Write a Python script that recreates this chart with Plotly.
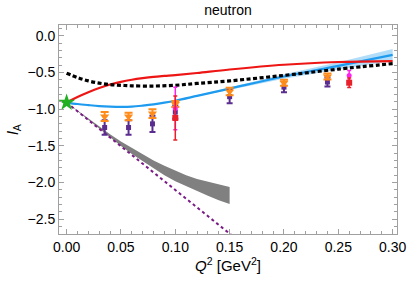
import plotly.graph_objects as go

# ---- data ----
q_curve = [0.0, 0.01, 0.02, 0.03, 0.04, 0.05, 0.06, 0.07, 0.08, 0.09, 0.10, 0.12, 0.15, 0.20, 0.25, 0.30]
red_curve = [-0.91, -0.835, -0.77, -0.712, -0.665, -0.628, -0.60, -0.578, -0.56, -0.548, -0.537, -0.508, -0.46, -0.395, -0.358, -0.345]
blue_curve = [-0.91, -0.93, -0.945, -0.958, -0.965, -0.968, -0.965, -0.952, -0.935, -0.912, -0.885, -0.82, -0.72, -0.555, -0.41, -0.26]
blue_err = [0.0, 0.0, 0.0, 0.0, 0.0, 0.0, 0.0, 0.0, 0.0, 0.0, 0.003, 0.008, 0.015, 0.03, 0.05, 0.08]

q_black = [0.0, 0.01, 0.02, 0.03, 0.04, 0.05, 0.06, 0.08, 0.10, 0.12, 0.15, 0.20, 0.25, 0.30]
black_curve = [-0.51, -0.57, -0.615, -0.645, -0.665, -0.675, -0.682, -0.685, -0.675, -0.65, -0.615, -0.54, -0.455, -0.38]

q_band = [0.0, 0.01, 0.02, 0.03, 0.04, 0.05, 0.06, 0.07, 0.08, 0.09, 0.10, 0.11, 0.12, 0.13, 0.14, 0.15]
band_upper = [-0.91, -1.02, -1.13, -1.24, -1.34, -1.44, -1.53, -1.62, -1.70, -1.77, -1.84, -1.90, -1.95, -1.99, -2.03, -2.06]
band_lower = [-0.91, -1.03, -1.15, -1.27, -1.39, -1.50, -1.61, -1.71, -1.81, -1.90, -1.98, -2.05, -2.12, -2.18, -2.24, -2.29]

q_line = [0.0, 0.16]
purple_line = [-0.91, -2.814]

q_pts = [0.035, 0.057, 0.079, 0.10, 0.15, 0.20, 0.24]
orange_y = [-1.10, -1.10, -1.06, -0.93, -0.76, -0.64, -0.555]
orange_err = [0.06, 0.05, 0.06, 0.04, 0.05, 0.04, 0.04]
purple_y = [-1.25, -1.25, -1.20, -1.04, -0.83, -0.70, -0.63]
purple_err = [0.10, 0.10, 0.11, 0.09, 0.09, 0.07, 0.06]

q_mag = [0.10, 0.26]
mag_y = [-0.99, -0.54]
mag_err = [0.29, 0.065]
q_red = [0.10, 0.26]
red_y = [-1.12, -0.64]
red_err = [0.30, 0.065]

star_q = [0.0]
star_y = [-0.91]

fig = go.Figure()

# gray band
fig.add_trace(go.Scatter(x=q_band, y=band_upper, mode="lines", line=dict(width=0, color="#808080"), showlegend=False, hoverinfo="skip"))
fig.add_trace(go.Scatter(x=q_band, y=band_lower, mode="lines", line=dict(width=0, color="#808080"), fill="tonexty", fillcolor="#808080", showlegend=False, hoverinfo="skip"))

# purple dashed
fig.add_trace(go.Scatter(x=q_line, y=purple_line, mode="lines", line=dict(color="#7A1A86", width=2, dash="3px,3px"), showlegend=False))

# blue band
fig.add_trace(go.Scatter(x=q_curve, y=[b + e for b, e in zip(blue_curve, blue_err)], mode="lines", line=dict(width=0), showlegend=False, hoverinfo="skip"))
fig.add_trace(go.Scatter(x=q_curve, y=[b - e for b, e in zip(blue_curve, blue_err)], mode="lines", line=dict(width=0), fill="tonexty", fillcolor="rgba(60,170,240,0.4)", showlegend=False, hoverinfo="skip"))
fig.add_trace(go.Scatter(x=q_curve, y=blue_curve, mode="lines", line=dict(color="#1E9BEF", width=2.2, shape="spline"), showlegend=False))

# red
fig.add_trace(go.Scatter(x=q_curve, y=red_curve, mode="lines", line=dict(color="#EE1515", width=2.2, shape="spline"), showlegend=False))

# black dashed
fig.add_trace(go.Scatter(x=q_black, y=black_curve, mode="lines", line=dict(color="black", width=3.2, dash="4px,2.5px", shape="spline"), showlegend=False))

# data points
fig.add_trace(go.Scatter(x=q_pts, y=purple_y, mode="markers",
                         marker=dict(symbol="square", size=5, color="#5B2D90"),
                         error_y=dict(type="data", array=purple_err, color="#5B2D90", thickness=2, width=3),
                         showlegend=False))
fig.add_trace(go.Scatter(x=q_pts, y=orange_y, mode="markers",
                         marker=dict(symbol="triangle-down", size=8, color="#FF8C1A"),
                         error_y=dict(type="data", array=orange_err, color="#FF8C1A", thickness=2, width=4),
                         showlegend=False))
fig.add_trace(go.Scatter(x=q_mag, y=mag_y, mode="markers",
                         marker=dict(symbol="circle", size=5, color="#FF22EE"),
                         error_y=dict(type="data", array=mag_err, color="#FF22EE", thickness=1.5, width=2),
                         showlegend=False))
fig.add_trace(go.Scatter(x=q_red, y=red_y, mode="markers",
                         marker=dict(symbol="square", size=6, color="#E8202A"),
                         error_y=dict(type="data", array=red_err, color="#E8202A", thickness=1.5, width=2),
                         showlegend=False))

# star
fig.add_trace(go.Scatter(x=star_q, y=star_y, mode="markers",
                         marker=dict(symbol="star", size=13, color="#22B022", line=dict(width=0)),
                         showlegend=False, cliponaxis=False))

font = "Liberation Sans, Arial, sans-serif"
axis_common = dict(showgrid=False, zeroline=False, showline=True, linecolor="#A0A0A0", linewidth=1,
                   mirror="allticks", ticks="inside", ticklen=5, tickcolor="#A0A0A0", tickwidth=1,
                   automargin=False,
                   tickfont=dict(family=font, size=14, color="black"))

fig.update_layout(
    width=407, height=284,
    margin=dict(l=59, r=10, t=25, b=50),
    paper_bgcolor="white", plot_bgcolor="white",
    font=dict(family=font, color="black"),
    title=dict(text="neutron", x=0.5, xref="paper", xanchor="center", y=1 - 10 / 284, yref="container", yanchor="middle",
               font=dict(family=font, size=14, color="black")),
    xaxis=dict(range=[-0.007, 0.304], tickvals=[0, 0.05, 0.10, 0.15, 0.20, 0.25, 0.30], tickformat=".2f",
               minor=dict(dtick=0.01, tick0=0, ticks="inside", ticklen=3, tickcolor="#A0A0A0"),
               title=dict(text="<i>Q</i><sup>2</sup> [GeV<sup>2</sup>]", font=dict(family=font, size=15), standoff=4),
               **axis_common),
    yaxis=dict(range=[-2.70, 0.146], tickvals=[0, -0.5, -1.0, -1.5, -2.0, -2.5], tickformat=".1f",
               minor=dict(dtick=0.1, tick0=0, ticks="inside", ticklen=3, tickcolor="#A0A0A0"),
               title=dict(text="<i>l</i><sub>A</sub>", font=dict(family=font, size=15), standoff=5),
               **axis_common),
)

fig.write_html("out.html", config={"displayModeBar": False, "responsive": False},
               post_script="document.body.style.margin='0';document.body.style.overflow='hidden';")
